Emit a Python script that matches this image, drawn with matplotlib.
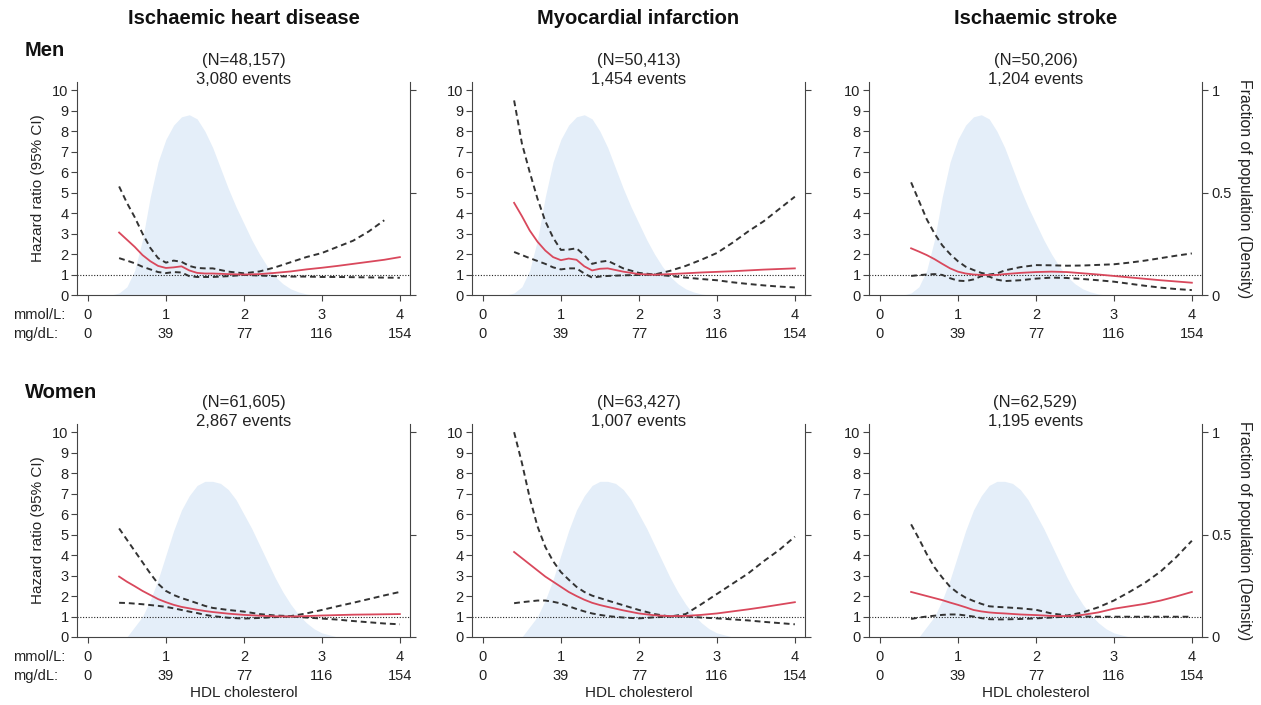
import numpy as np
import matplotlib
matplotlib.use("Agg")
import matplotlib.pyplot as plt
from matplotlib.transforms import blended_transform_factory

plt.rcParams['font.family'] = ['Liberation Sans', 'DejaVu Sans']

# ---------------- data ----------------
outcomes = ["Ischaemic heart disease", "Myocardial infarction", "Ischaemic stroke"]
sexes = ["Men", "Women"]
n_text = [["(N=48,157)", "(N=50,413)", "(N=50,206)"],
          ["(N=61,605)", "(N=63,427)", "(N=62,529)"]]
ev_text = [["3,080 events", "1,454 events", "1,204 events"],
           ["2,867 events", "1,007 events", "1,195 events"]]

mmol_ticks = [0, 1, 2, 3, 4]
mgdl_labels = ["0", "39", "77", "116", "154"]

hdl = [0.4, 0.5, 0.6, 0.7, 0.8, 0.9, 1.0, 1.1, 1.2, 1.3, 1.4, 1.5, 1.6,
       1.8, 2.0, 2.2, 2.4, 2.6, 2.8, 3.0, 3.2, 3.4, 3.6, 3.8, 4.0]
nan = float('nan')

# Men - Ischaemic heart disease
ihd_m_hr = [3.05, 2.7, 2.35, 1.95, 1.65, 1.42, 1.32, 1.35, 1.4, 1.2, 1.08, 1.05, 1.05,
            1.02, 1.0, 1.02, 1.08, 1.15, 1.25, 1.33, 1.42, 1.52, 1.62, 1.72, 1.85]
ihd_m_up = [5.3, 4.5, 3.8, 3.0, 2.3, 1.8, 1.58, 1.68, 1.62, 1.42, 1.32, 1.3, 1.3,
            1.14, 1.06, 1.15, 1.35, 1.6, 1.85, 2.05, 2.35, 2.65, 3.1, 3.65, nan]
ihd_m_lo = [1.8, 1.68, 1.55, 1.38, 1.25, 1.12, 1.07, 1.12, 1.1, 0.92, 0.88, 0.88, 0.88,
            0.92, 0.98, 0.95, 0.92, 0.9, 0.9, 0.88, 0.88, 0.87, 0.86, 0.85, 0.84]
# Men - Myocardial infarction
mi_m_hr = [4.5, 3.85, 3.15, 2.6, 2.17, 1.85, 1.7, 1.78, 1.72, 1.4, 1.2, 1.28, 1.3,
           1.14, 1.02, 0.99, 1.02, 1.06, 1.1, 1.13, 1.16, 1.2, 1.24, 1.27, 1.3]
mi_m_up = [9.5, 7.4, 6.0, 4.7, 3.6, 2.8, 2.2, 2.22, 2.28, 1.95, 1.52, 1.62, 1.67,
           1.3, 1.08, 1.0, 1.18, 1.42, 1.72, 2.05, 2.55, 3.1, 3.6, 4.2, 4.8]
mi_m_lo = [2.1, 1.95, 1.8, 1.66, 1.52, 1.35, 1.25, 1.3, 1.3, 1.05, 0.85, 0.9, 0.93,
           0.96, 0.98, 1.0, 0.93, 0.85, 0.78, 0.72, 0.62, 0.54, 0.47, 0.41, 0.37]
# Men - Ischaemic stroke
is_m_hr = [2.28, 2.12, 1.95, 1.75, 1.52, 1.3, 1.14, 1.05, 1.0, 0.98, 0.98, 0.98, 1.02,
           1.08, 1.12, 1.14, 1.12, 1.06, 1.0, 0.93, 0.86, 0.79, 0.72, 0.66, 0.6]
is_m_up = [5.5, 4.6, 3.7, 3.0, 2.42, 2.0, 1.65, 1.38, 1.22, 1.08, 1.0, 1.05, 1.2,
           1.36, 1.46, 1.45, 1.43, 1.44, 1.47, 1.5, 1.58, 1.68, 1.8, 1.92, 2.03]
is_m_lo = [0.93, 0.97, 1.0, 1.02, 0.98, 0.82, 0.7, 0.68, 0.76, 0.92, 0.9, 0.75, 0.68,
           0.72, 0.8, 0.85, 0.83, 0.78, 0.72, 0.65, 0.55, 0.45, 0.36, 0.29, 0.24]
# Women - Ischaemic heart disease
ihd_w_hr = [2.95, 2.7, 2.48, 2.25, 2.05, 1.85, 1.7, 1.57, 1.47, 1.4, 1.33, 1.27, 1.22,
            1.14, 1.08, 1.04, 1.01, 1.0, 1.02, 1.05, 1.07, 1.09, 1.1, 1.11, 1.12]
ihd_w_up = [5.3, 4.75, 4.2, 3.65, 3.1, 2.6, 2.25, 2.05, 1.9, 1.78, 1.65, 1.52, 1.42,
            1.32, 1.24, 1.12, 1.05, 1.02, 1.15, 1.32, 1.5, 1.67, 1.85, 2.03, 2.2]
ihd_w_lo = [1.67, 1.66, 1.63, 1.6, 1.56, 1.52, 1.47, 1.4, 1.32, 1.24, 1.17, 1.08, 1.02,
            0.94, 0.9, 0.93, 0.97, 1.0, 0.95, 0.9, 0.85, 0.78, 0.72, 0.66, 0.62]
# Women - Myocardial infarction
mi_w_hr = [4.15, 3.85, 3.55, 3.25, 2.95, 2.7, 2.45, 2.2, 2.0, 1.82, 1.67, 1.56, 1.47,
           1.3, 1.15, 1.06, 1.02, 1.03, 1.08, 1.15, 1.25, 1.35, 1.46, 1.58, 1.7]
mi_w_up = [10.0, 8.5, 6.8, 5.4, 4.4, 3.7, 3.17, 2.8, 2.45, 2.2, 2.02, 1.9, 1.78,
           1.55, 1.32, 1.12, 1.0, 1.12, 1.6, 2.1, 2.6, 3.1, 3.7, 4.25, 4.9]
mi_w_lo = [1.65, 1.7, 1.74, 1.78, 1.78, 1.72, 1.64, 1.5, 1.37, 1.25, 1.15, 1.08, 1.02,
           0.95, 0.91, 0.96, 1.0, 1.0, 0.95, 0.91, 0.86, 0.81, 0.74, 0.68, 0.62]
# Women - Ischaemic stroke
is_w_hr = [2.2, 2.1, 2.0, 1.9, 1.8, 1.68, 1.57, 1.45, 1.32, 1.25, 1.2, 1.17, 1.15,
           1.1, 1.07, 1.03, 1.02, 1.08, 1.2, 1.38, 1.5, 1.62, 1.78, 1.98, 2.2]
is_w_up = [5.5, 4.8, 4.05, 3.4, 2.9, 2.45, 2.15, 1.92, 1.76, 1.62, 1.5, 1.47, 1.45,
           1.4, 1.33, 1.15, 1.05, 1.2, 1.45, 1.78, 2.2, 2.65, 3.2, 3.9, 4.7]
is_w_lo = [0.88, 0.95, 1.0, 1.04, 1.08, 1.1, 1.1, 1.05, 1.0, 0.92, 0.87, 0.86, 0.86,
           0.88, 0.91, 0.95, 1.0, 1.0, 0.99, 0.99, 0.99, 0.99, 0.99, 0.99, 0.99]

# population density of HDL (fraction, right axis)
dens_x = [0.3, 0.4, 0.5, 0.6, 0.7, 0.8, 0.9, 1.0, 1.1, 1.2, 1.3, 1.4, 1.5, 1.6, 1.7,
          1.8, 1.9, 2.0, 2.1, 2.2, 2.3, 2.4, 2.5, 2.6, 2.7, 2.8, 2.9, 3.0, 3.2]
dens_men = [0.0, 0.01, 0.04, 0.12, 0.27, 0.48, 0.65, 0.76, 0.83, 0.87, 0.88, 0.86, 0.8,
            0.72, 0.62, 0.52, 0.43, 0.35, 0.27, 0.2, 0.14, 0.09, 0.055, 0.03, 0.015,
            0.005, 0.0, 0.0, 0.0]
dens_women = [0.0, 0.0, 0.0, 0.05, 0.1, 0.18, 0.28, 0.4, 0.52, 0.62, 0.69, 0.74, 0.76,
              0.76, 0.75, 0.72, 0.67, 0.6, 0.53, 0.45, 0.37, 0.29, 0.22, 0.16, 0.11,
              0.07, 0.04, 0.02, 0.0]

series = [[(ihd_m_hr, ihd_m_lo, ihd_m_up), (mi_m_hr, mi_m_lo, mi_m_up), (is_m_hr, is_m_lo, is_m_up)],
          [(ihd_w_hr, ihd_w_lo, ihd_w_up), (mi_w_hr, mi_w_lo, mi_w_up), (is_w_hr, is_w_lo, is_w_up)]]
densities = [dens_men, dens_women]

# ---------------- layout ----------------
W, H = 1261, 705
fig = plt.figure(figsize=(W / 100, H / 100), dpi=100)

col_left = [77, 472, 869]
col_width = 333
row_bottom = [295, 637]
row_height = 213

TXT = '#222222'
SPINE = '#444444'
RED = '#d9485c'
CI = '#333333'
BLUE = '#e4eef9'

for r in range(2):
    for c in range(3):
        x0 = col_left[c] / W
        y0 = 1 - row_bottom[r] / H
        ax = fig.add_axes([x0, y0, col_width / W, row_height / H])
        ax2 = ax.twinx()
        ax.set_zorder(ax2.get_zorder() + 1)
        ax.patch.set_visible(False)

        ax2.fill_between(dens_x, 0, densities[r], color=BLUE, lw=0)
        ax2.set_ylim(0, 1.04)

        hr, lo, up = series[r][c]
        ax.axhline(1, color='#222222', lw=0.8, ls=(0, (1, 1.5)), zorder=1)
        ax.plot(hdl, up, color=CI, lw=1.4, ls=(0, (3, 2)), zorder=3)
        ax.plot(hdl, lo, color=CI, lw=1.4, ls=(0, (3, 2)), zorder=3)
        ax.plot(hdl, hr, color=RED, lw=1.3, zorder=4)

        ax.set_xlim(-0.14, 4.13)
        ax.set_ylim(0, 10.4)
        ax.set_yticks(range(11))
        ax.set_xticks(mmol_ticks)
        ax.set_xticklabels([])
        for a in (ax, ax2):
            a.spines['top'].set_visible(False)
        ax.spines['right'].set_visible(False)
        ax2.spines['left'].set_visible(False)
        ax2.spines['bottom'].set_visible(False)
        for sp in ('left', 'bottom'):
            ax.spines[sp].set_color(SPINE)
            ax.spines[sp].set_linewidth(0.8)
        ax2.spines['right'].set_color(SPINE)
        ax2.spines['right'].set_linewidth(0.8)
        ax.tick_params(axis='both', direction='out', length=4, width=0.8,
                       color=SPINE, labelcolor=TXT, labelsize=10.5, pad=2)
        ax2.set_yticks([0, 0.5, 1])
        ax2.tick_params(axis='y', direction='out', length=4, width=0.8,
                        color=SPINE, labelcolor=TXT, labelsize=10.5, pad=3)
        if c == 2:
            ax2.set_yticklabels(['0', '0.5', '1'])
            ax2.set_ylabel('Fraction of population (Density)', rotation=270,
                           fontsize=11.3, color=TXT, labelpad=14)
        else:
            ax2.set_yticklabels([])
        if c == 0:
            ax.set_ylabel('Hazard ratio (95% CI)', fontsize=11, color=TXT, labelpad=5)

        tr = blended_transform_factory(ax.transData, ax.transAxes)
        for xv, lab in zip(mmol_ticks, mgdl_labels):
            ax.text(xv, -20 / row_height, str(xv), transform=tr, ha='center',
                    va='center', fontsize=10.5, color=TXT)
            ax.text(xv, -39 / row_height, lab, transform=tr, ha='center',
                    va='center', fontsize=10.5, color=TXT)
        if c == 0:
            fig.text(13 / W, 1 - (row_bottom[r] + 20) / H, 'mmol/L:', ha='left',
                     va='center', fontsize=10.5, color=TXT)
            fig.text(13 / W, 1 - (row_bottom[r] + 39) / H, 'mg/dL:', ha='left',
                     va='center', fontsize=10.5, color=TXT)
        if r == 1:
            ax.text(0.5, -56 / row_height, 'HDL cholesterol', transform=ax.transAxes,
                    ha='center', va='center', fontsize=11, color=TXT)

        # N / events header
        ax.text(0.5, 1 + 22 / row_height, n_text[r][c], transform=ax.transAxes,
                ha='center', va='center', fontsize=12, color=TXT)
        ax.text(0.5, 1 + 2 / row_height, ev_text[r][c], transform=ax.transAxes,
                ha='center', va='center', fontsize=12, color=TXT)

        if r == 0:
            ax.text(0.5, 1 + 64 / row_height, outcomes[c], transform=ax.transAxes,
                    ha='center', va='center', fontsize=14.5, fontweight='bold',
                    color='#111111')

fig.text(25 / W, 1 - 50 / H, 'Men', ha='left', va='center', fontsize=14.5,
         fontweight='bold', color='#111111')
fig.text(25 / W, 1 - 393 / H, 'Women', ha='left', va='center', fontsize=14.5,
         fontweight='bold', color='#111111')

fig.savefig('out.png', dpi=100)
